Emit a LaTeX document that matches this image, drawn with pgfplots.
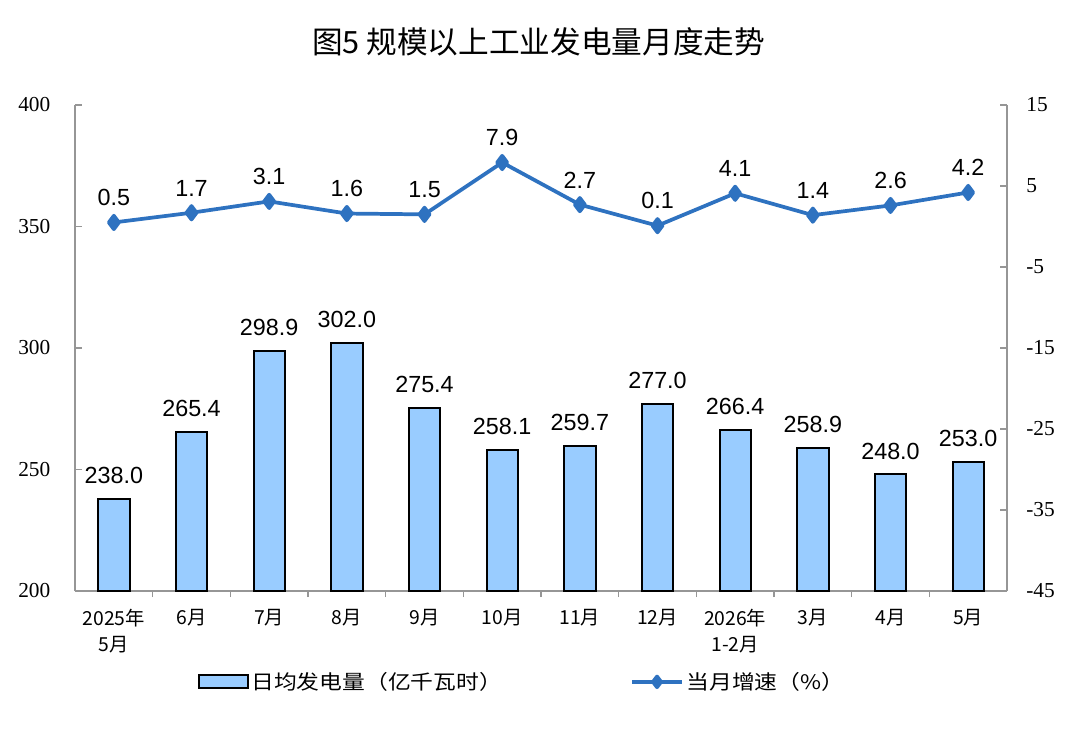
\documentclass[border=0pt]{standalone}
\usepackage{fontspec}
\setmainfont{Liberation Serif}
\newfontfamily\cjk{Noto Sans CJK SC}
\newfontfamily\cjktitle{Noto Sans CJK SC}
\newfontfamily\cjkleg{Noto Sans CJK SC}[FakeStretch=1.14]
\newfontfamily\arial{Liberation Sans}
\usepackage{pgfplots}
\pgfplotsset{compat=1.18}
\definecolor{barc}{RGB}{153,204,255}
\definecolor{linec}{RGB}{46,114,192}
\definecolor{axisgray}{RGB}{150,150,150}
\pgfplotsset{/pgf/number format/assume math mode=true}
\begin{document}
\begin{tikzpicture}
\useasboundingbox (0,0) rectangle (810pt,559.5pt);
\node at (404pt,528pt) {\cjktitle\fontsize{23pt}{27pt}\selectfont 图5 规模以上工业发电量月度走势};
\begin{axis}[
  at={(56.25pt,116.25pt)}, anchor=south west,
  scale only axis, width=699pt, height=364.5pt,
  xmin=-0.5, xmax=11.5, ymin=200, ymax=400,
  axis x line*=bottom, axis y line*=left,
  axis line style={draw=axisgray, line width=0.9pt},
  tick align=inside,
  xtick={0,...,11},
  xticklabels={{2025年\\5月},6月,7月,8月,9月,10月,11月,12月,{2026年\\1-2月},3月,4月,5月},
  x tick label style={font=\cjk\fontsize{14.5pt}{19.5pt}\selectfont, align=center, yshift=-5pt},
  major x tick style={draw=none},
  minor xtick={0.5,1.5,...,10.5},
  minor tick length=4.5pt,
  minor x tick style={draw=axisgray, line width=0.9pt},
  ytick={200,250,...,400},
  major tick length=5pt,
  ytick style={draw=axisgray, line width=0.9pt},
  y tick label style={font=\fontsize{16pt}{18pt}\selectfont, xshift=-15pt},
  clip=false,
  ybar, bar width=23.5pt,
]
\addplot[fill=barc, draw=black, line width=1.5pt,
  nodes near coords,
  nodes near coords style={font=\arial\fontsize{17.5pt}{20pt}\selectfont, text=black, anchor=south, inner sep=0pt, yshift=10.5pt,
    /pgf/number format/.cd, fixed, fixed zerofill, precision=1}]
  coordinates {(0,238.0) (1,265.4) (2,298.9) (3,302.0) (4,275.4) (5,258.1) (6,259.7) (7,277.0) (8,266.4) (9,258.9) (10,248.0) (11,253.0)};
\end{axis}
\begin{axis}[
  at={(56.25pt,116.25pt)}, anchor=south west,
  scale only axis, width=699pt, height=364.5pt,
  xmin=-0.5, xmax=11.5, ymin=-45, ymax=15,
  axis x line=none, axis y line*=right,
  axis line style={draw=axisgray, line width=0.9pt},
  tick align=inside,
  ytick={-45,-35,...,15},
  major tick length=5pt,
  ytick style={draw=axisgray, line width=0.9pt},
  y tick label style={font=\fontsize{16pt}{18pt}\selectfont, xshift=11pt},
  clip=false,
  legend style={draw=none, at={(0.48,-0.187)}, anchor=center, legend columns=2,
    font=\cjkleg\fontsize{15pt}{17pt}\selectfont, inner sep=0pt,
    /tikz/every even column/.append style={column sep=94pt}},
  legend cell align=left,
]
\addlegendimage{legend image code/.code={\draw[fill=barc, draw=black, line width=1.5pt] (0pt,-4.9pt) rectangle (36.75pt,4.9pt);}}
\addlegendentry{日均发电量（亿千瓦时）}
\addplot[color=linec, line width=2.8pt, line join=round, mark=diamond*, mark size=5pt, mark options={solid, fill=linec},
  nodes near coords,
  nodes near coords style={font=\arial\fontsize{17.5pt}{20pt}\selectfont, text=black, anchor=south, inner sep=0pt, yshift=11pt,
    /pgf/number format/.cd, fixed, fixed zerofill, precision=1},
  legend image code/.code={\draw[color=linec, line width=2.8pt] (0pt,0pt) -- (37.5pt,0pt); \fill[linec] (18.75pt,0pt) +(0,4pt) -- +(3pt,0) -- +(0,-4pt) -- +(-3pt,0) -- cycle;}]
  coordinates {(0,0.5) (1,1.7) (2,3.1) (3,1.6) (4,1.5) (5,7.9) (6,2.7) (7,0.1) (8,4.1) (9,1.4) (10,2.6) (11,4.2)};
\addlegendentry{当月增速（\%）}
\end{axis}
\end{tikzpicture}
\end{document}
